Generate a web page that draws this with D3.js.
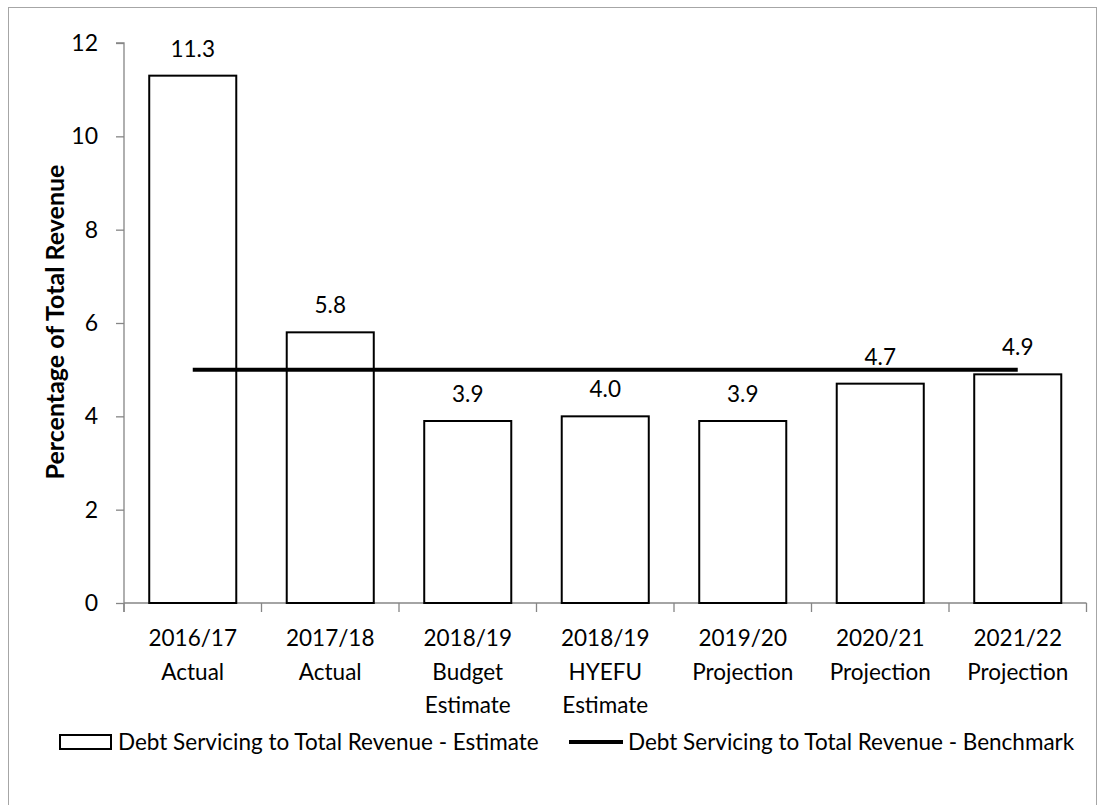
<!DOCTYPE html>
<html>
<head>
<meta charset="utf-8">
<script src="https://cdn.jsdelivr.net/npm/d3@7"></script>
<style>
  html, body { margin: 0; padding: 0; background: #fff; }
  svg { display: block; }
  text { font-family: Lato, "Open Sans", sans-serif; fill: #000; }
</style>
</head>
<body>
<svg id="chart" width="1105" height="805"></svg>
<script>
// Debt servicing as a share of total revenue, by year
const categories = [
  ["2016/17", "Actual"],
  ["2017/18", "Actual"],
  ["2018/19", "Budget", "Estimate"],
  ["2018/19", "HYEFU", "Estimate"],
  ["2019/20", "Projection"],
  ["2020/21", "Projection"],
  ["2021/22", "Projection"]
];
const estimate = [11.3, 5.8, 3.9, 4.0, 3.9, 4.7, 4.9];
const benchmark = [5, 5, 5, 5, 5, 5, 5];
const yTicks = [0, 2, 4, 6, 8, 10, 12];
const seriesNames = [
  "Debt Servicing to Total Revenue - Estimate",
  "Debt Servicing to Total Revenue - Benchmark"
];
const yTitle = "Percentage of Total Revenue";

const svg = d3.select("#chart");
const axisColor = "#868686";
const fontSize = 22.5;

// chart frame
svg.append("rect")
  .attr("x", 8.5).attr("y", 7.5)
  .attr("width", 1088).attr("height", 820)
  .attr("fill", "#fff").attr("stroke", "#a6a6a6").attr("stroke-width", 1);

const plot = { left: 124, right: 1086.5, top: 43, bottom: 603 };
const keys = categories.map((c, i) => i);

const x = d3.scaleBand()
  .domain(keys)
  .range([plot.left, plot.right])
  .paddingInner(0.367)
  .paddingOuter(0.1835);

const y = d3.scaleLinear().domain([0, 12]).range([plot.bottom, plot.top]);

// y axis
const yAxis = svg.append("g")
  .attr("transform", `translate(${plot.left},0)`)
  .call(d3.axisLeft(y).tickValues(yTicks).tickSize(8).tickPadding(18).tickFormat(d3.format("d")));
yAxis.select(".domain").attr("stroke", axisColor).attr("stroke-width", 1.3)
  .attr("d", `M-8,${plot.top}H0V${plot.bottom + 9}`);
yAxis.selectAll(".tick line").attr("stroke", axisColor).attr("stroke-width", 1.3);
yAxis.selectAll(".tick text").style("font-size", "23px").attr("fill", "#000")
  .attr("font-family", "Lato, sans-serif");

// x axis: line along zero with ticks at category boundaries
const step = x.step();
const boundaries = d3.range(categories.length + 1).map(i => plot.left + i * step);
const xAxisG = svg.append("g");
xAxisG.append("line")
  .attr("x1", plot.left).attr("x2", plot.right)
  .attr("y1", y(0)).attr("y2", y(0))
  .attr("stroke", axisColor).attr("stroke-width", 1.3);
xAxisG.selectAll("line.tick").data(boundaries).join("line")
  .attr("class", "tick")
  .attr("x1", d => d).attr("x2", d => d)
  .attr("y1", y(0)).attr("y2", y(0) + 9)
  .attr("stroke", axisColor).attr("stroke-width", 1.3);

// category labels
const catLabels = svg.append("g").selectAll("text").data(categories).join("text")
  .attr("text-anchor", "middle")
  .style("font-size", fontSize + "px")
  .attr("x", (d, i) => x(i) + x.bandwidth() / 2)
  .attr("y", 646);
catLabels.selectAll("tspan").data(d => d).join("tspan")
  .attr("x", function () { return this.parentNode.getAttribute("x"); })
  .attr("dy", (d, j) => j === 0 ? 0 : 33.5)
  .text(d => d);

// bars
svg.append("g").selectAll("rect").data(estimate).join("rect")
  .attr("x", (d, i) => x(i))
  .attr("y", d => y(d))
  .attr("width", x.bandwidth())
  .attr("height", d => y(0) - y(d))
  .attr("fill", "#fff")
  .attr("stroke", "#000")
  .attr("stroke-width", 2);

// value labels
svg.append("g").selectAll("text").data(estimate).join("text")
  .attr("text-anchor", "middle")
  .style("font-size", fontSize + "px")
  .attr("x", (d, i) => x(i) + x.bandwidth() / 2)
  .attr("y", d => y(d) - 19)
  .text(d => d3.format(".1f")(d));

// benchmark line through category centres
const line = d3.line()
  .x((d, i) => x(i) + x.bandwidth() / 2)
  .y(d => y(d));
svg.append("path")
  .datum(benchmark)
  .attr("d", line)
  .attr("fill", "none")
  .attr("stroke", "#000")
  .attr("stroke-width", 4);

// y axis title
svg.append("text")
  .attr("transform", `translate(64,${(plot.top + plot.bottom) / 2 - 1}) rotate(-90)`)
  .attr("text-anchor", "middle")
  .style("font-size", "25px")
  .style("font-weight", "bold")
  .text(yTitle);

// legend
const legend = svg.append("g");
const ly = 742;
legend.append("rect")
  .attr("x", 60).attr("y", ly - 7)
  .attr("width", 51).attr("height", 14)
  .attr("fill", "#fff").attr("stroke", "#000").attr("stroke-width", 2);
legend.append("text")
  .attr("x", 118).attr("y", ly).attr("dy", "0.36em")
  .style("font-size", fontSize + "px")
  .text(seriesNames[0]);
legend.append("line")
  .attr("x1", 569).attr("x2", 623)
  .attr("y1", ly).attr("y2", ly)
  .attr("stroke", "#000").attr("stroke-width", 4);
legend.append("text")
  .attr("x", 628).attr("y", ly).attr("dy", "0.36em")
  .style("font-size", fontSize + "px")
  .text(seriesNames[1]);
</script>
</body>
</html>
